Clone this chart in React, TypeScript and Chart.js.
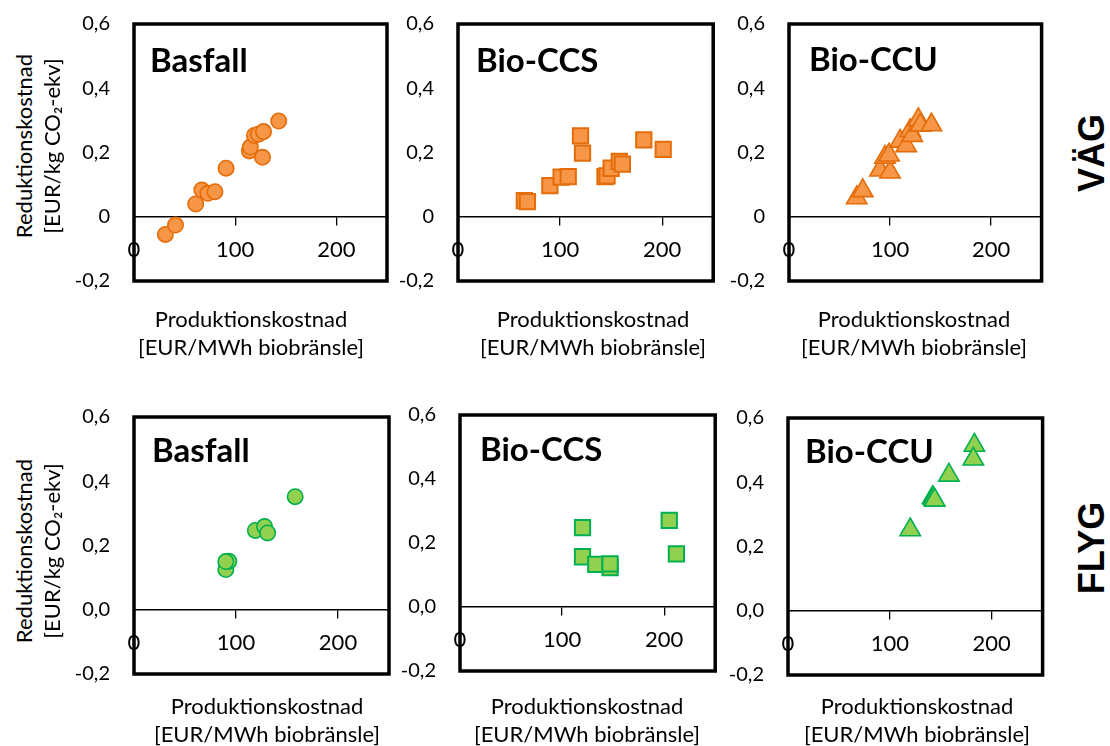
import React, { useEffect, useRef } from 'react';
import { Chart, registerables } from 'chart.js';

Chart.register(...registerables);

// ---------- data ----------
const xTicks = [0, 100, 200];
const xTickLabels = ['0', '100', '200'];
const yTicks = [-0.2, 0, 0.2, 0.4, 0.6];
const yTickLabelsVag = ['-0,2', '0', '0,2', '0,4', '0,6'];
const yTickLabelsFlyg = ['-0,2', '0,0', '0,2', '0,4', '0,6'];

const panelTitles = ['Basfall', 'Bio-CCS', 'Bio-CCU'];
const rowLabels = ['VÄG', 'FLYG'];
const xTitleLines = ['Produktionskostnad', '[EUR/MWh biobränsle]'];
const yTitleLines = ['Reduktionskostnad', '[EUR/kg CO₂-ekv]'];

// VÄG (road)
const vagBasfallX = [31, 41, 61, 67, 73, 80, 91, 114, 115, 119, 123, 128, 127, 143];
const vagBasfallY = [-0.055, -0.026, 0.04, 0.083, 0.073, 0.078, 0.151, 0.205, 0.217, 0.253, 0.257, 0.265, 0.185, 0.298];
const vagCcsX = [65, 68, 90, 101, 108, 120, 122, 144, 146, 150, 158, 161, 182, 201];
const vagCcsY = [0.05, 0.047, 0.097, 0.123, 0.125, 0.252, 0.198, 0.125, 0.127, 0.151, 0.172, 0.164, 0.239, 0.21];
const vagCcuX = [67, 73, 90, 100, 95, 99, 110, 116, 120, 122, 128, 130, 141];
const vagCcuY = [0.059, 0.081, 0.145, 0.139, 0.185, 0.192, 0.235, 0.221, 0.268, 0.253, 0.302, 0.285, 0.286];
// FLYG (aviation)
const flygBasfallX = [158, 119, 128, 131, 90, 93, 90];
const flygBasfallY = [0.352, 0.247, 0.259, 0.239, 0.125, 0.151, 0.15];
const flygCcsX = [120, 120, 133, 147, 147, 205, 212];
const flygCcsY = [0.248, 0.157, 0.133, 0.123, 0.135, 0.271, 0.166];
const flygCcuX = [120, 142, 143, 144, 158, 183, 182];
const flygCcuY = [0.252, 0.352, 0.349, 0.344, 0.422, 0.515, 0.472];

// ---------- styles ----------
const ORANGE_FILL = '#F79646';
const ORANGE_LINE = '#E46C0A';
const GREEN_FILL = '#92D050';
const GREEN_LINE = '#00B050';
const FONT = 'Lato, "Open Sans", sans-serif';

type Box = { l: number; t: number; r: number; b: number };
type PanelDef = {
  xs: number[];
  ys: number[];
  shape: 'circle' | 'rect' | 'triangle';
  fill: string;
  line: string;
  yLabels: string[];
  box: Box;
};

const panels: PanelDef[] = [
  { xs: vagBasfallX, ys: vagBasfallY, shape: 'circle', fill: ORANGE_FILL, line: ORANGE_LINE, yLabels: yTickLabelsVag, box: { l: 134, t: 24, r: 387, b: 281 } },
  { xs: vagCcsX, ys: vagCcsY, shape: 'rect', fill: ORANGE_FILL, line: ORANGE_LINE, yLabels: yTickLabelsVag, box: { l: 458, t: 24, r: 714, b: 281 } },
  { xs: vagCcuX, ys: vagCcuY, shape: 'triangle', fill: ORANGE_FILL, line: ORANGE_LINE, yLabels: yTickLabelsVag, box: { l: 789, t: 24, r: 1043, b: 281 } },
  { xs: flygBasfallX, ys: flygBasfallY, shape: 'circle', fill: GREEN_FILL, line: GREEN_LINE, yLabels: yTickLabelsFlyg, box: { l: 134, t: 417, r: 389, b: 674 } },
  { xs: flygCcsX, ys: flygCcsY, shape: 'rect', fill: GREEN_FILL, line: GREEN_LINE, yLabels: yTickLabelsFlyg, box: { l: 460, t: 415, r: 716, b: 671 } },
  { xs: flygCcuX, ys: flygCcuY, shape: 'triangle', fill: GREEN_FILL, line: GREEN_LINE, yLabels: yTickLabelsFlyg, box: { l: 788, t: 418, r: 1044, b: 675 } },
];

const YW = 70;
const PT = 45;
const PR = 12;
const PB = 45;

const boxPlugin = {
  id: 'boxBorder',
  afterDraw(chart: any) {
    const { ctx, chartArea } = chart;
    ctx.save();
    ctx.strokeStyle = '#000';
    ctx.lineWidth = 3.5;
    ctx.strokeRect(chartArea.left, chartArea.top, chartArea.right - chartArea.left, chartArea.bottom - chartArea.top);
    ctx.restore();
  },
};

function Panel({ def }: { def: PanelDef }) {
  const ref = useRef<HTMLCanvasElement>(null);
  const { l, t, r, b } = def.box;
  const w = r - l + YW + PR;
  const h = b - t + PT + PB;
  useEffect(() => {
    const radius = def.shape === 'circle' ? 7.7 : def.shape === 'rect' ? 10.8 : 11.8;
    const chart = new Chart(ref.current as HTMLCanvasElement, {
      type: 'scatter',
      data: {
        datasets: [
          {
            data: def.xs.map((x, i) => ({ x, y: def.ys[i] })),
            pointStyle: def.shape,
            pointRadius: radius,
            pointHoverRadius: radius,
            backgroundColor: def.fill,
            borderColor: def.line,
            borderWidth: def.shape === 'rect' ? 2 : 1.6,
          },
        ],
      },
      options: {
        responsive: false,
        animation: false,
        devicePixelRatio: 1,
        layout: { padding: { left: 0, top: PT, right: PR, bottom: PB } },
        plugins: { legend: { display: false }, tooltip: { enabled: false } },
        scales: {
          x: {
            type: 'linear',
            min: 0,
            max: 250,
            position: { y: 0 } as any,
            afterBuildTicks: (s: any) => {
              s.ticks = xTicks.map((v) => ({ value: v }));
            },
            ticks: {
              callback: (_v: any, i: number) => xTickLabels[i],
              font: { family: FONT, size: 22 },
              color: '#000',
              padding: 12,
              maxRotation: 0,
              autoSkip: false,
            },
            grid: { drawOnChartArea: false, drawTicks: true, tickLength: 8, color: '#000', lineWidth: 1.3 },
            border: { display: true, color: '#000', width: 1.5 },
          },
          y: {
            type: 'linear',
            min: -0.2,
            max: 0.6,
            position: 'left',
            afterFit: (s: any) => {
              s.width = YW;
            },
            afterBuildTicks: (s: any) => {
              s.ticks = yTicks.map((v) => ({ value: v }));
            },
            ticks: {
              callback: (_v: any, i: number) => def.yLabels[i],
              font: { family: FONT, size: 20 },
              color: '#000',
              padding: 16,
              autoSkip: false,
            },
            grid: { display: false },
            border: { display: false },
          },
        },
      } as any,
      plugins: [boxPlugin],
    });
    return () => chart.destroy();
  }, []);
  return (
    <canvas
      ref={ref}
      width={w}
      height={h}
      style={{ position: 'absolute', left: l - YW, top: t - PT, width: w, height: h }}
    />
  );
}

function Txt({ x, y, text, size, bold, rotate, family }: any) {
  // x,y = centre of the line box
  return (
    <div
      style={{
        position: 'absolute',
        left: x,
        top: y,
        transform: `translate(-50%, -50%)${rotate ? ' rotate(-90deg)' : ''}`,
        fontFamily: family || FONT,
        fontSize: size,
        fontWeight: bold ? 700 : 400,
        lineHeight: `${size}px`,
        whiteSpace: 'nowrap',
        color: '#000',
        textAlign: 'center',
      }}
    >
      {text}
    </div>
  );
}

function TitleLeft({ x, baseline, text }: any) {
  const size = 33;
  return (
    <div
      style={{
        position: 'absolute',
        left: x,
        top: baseline - 0.887 * size,
        fontFamily: FONT,
        fontSize: size,
        fontWeight: 700,
        lineHeight: `${size}px`,
        whiteSpace: 'nowrap',
        color: '#000',
      }}
    >
      {text}
    </div>
  );
}

const titlePos = [
  { x: 150, y: 72 },
  { x: 476, y: 72 },
  { x: 809, y: 71 },
  { x: 152, y: 462 },
  { x: 480, y: 461 },
  { x: 805, y: 463 },
];
const xTitleCx = [251, 593, 914, 267, 587, 917];
const xTitleBase = [328, 715];
const yTitleCy = [146, 551];
const rowLabelCy = [153, 548];

export default function App() {
  const AT = 22; // axis title font size
  return (
    <div style={{ position: 'absolute', left: 0, top: 0, width: 1110, height: 746, background: '#fff', overflow: 'hidden' }}>
      {panels.map((p, i) => (
        <Panel key={i} def={p} />
      ))}
      {panels.map((_p, i) => (
        <TitleLeft key={'t' + i} x={titlePos[i].x} baseline={titlePos[i].y} text={panelTitles[i % 3]} />
      ))}
      {panels.map((_p, i) => (
        <React.Fragment key={'x' + i}>
          <Txt x={xTitleCx[i]} y={xTitleBase[Math.floor(i / 3)] - 0.387 * AT} text={xTitleLines[0]} size={AT} />
          <Txt x={xTitleCx[i]} y={xTitleBase[Math.floor(i / 3)] + 28 - 0.387 * AT} text={xTitleLines[1]} size={AT} />
        </React.Fragment>
      ))}
      {yTitleCy.map((cy, r) => (
        <React.Fragment key={'y' + r}>
          <Txt x={33 - 0.387 * AT} y={cy} text={yTitleLines[0]} size={AT} rotate />
          <Txt x={61 - 0.387 * AT} y={cy} text={yTitleLines[1]} size={AT} rotate />
        </React.Fragment>
      ))}
      {rowLabelCy.map((cy, r) => (
        <Txt key={'r' + r} x={1092} y={cy} text={rowLabels[r]} size={36} bold rotate family={'"Liberation Sans", Arial, sans-serif'} />
      ))}
    </div>
  );
}
